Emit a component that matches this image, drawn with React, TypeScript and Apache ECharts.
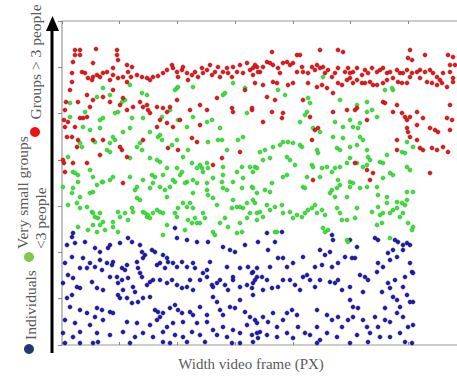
import React, { useEffect, useRef } from "react";
import * as echarts from "echarts";

// Axis extent (video frame px along x, arbitrary vertical units along y)
const X_MAX = 404;
const Y_MAX = 324;
const X_TICKS = 7;
const Y_TICKS = 7;

const X_LABEL = "Width video frame (PX)";
const LEGEND_RED = "Groups > 3 people";
const LEGEND_GREEN_1 = "Very small groups";
const LEGEND_GREEN_2 = "<3 people";
const LEGEND_BLUE = "Individuals";

// Groups > 3 people
const RED: number[][] = [
  [13,295],[18,295],[13,290],[18,290],[34,296],[55,295],[55,290],[11,283],[10,272],[10,263],[8,255],[4,243],[3,235],[2,225],[3,218],[1,185],[11,182],[31,282],[56,285],[51,277],[65,280],[70,278],[66,273],[69,268],
  [20,273],[23,272],[26,267],[30,265],[31,268],[35,270],[38,268],[41,272],[45,273],[48,265],[51,270],[56,267],[61,268],[65,263],[75,270],[80,268],[85,267],[88,265],[91,268],[96,269],[101,272],[105,275],[110,280],[111,277],[115,273],[116,268],[120,275],[121,278],[125,272],[126,265],[130,270],[133,273],[136,268],[140,277],[141,272],[145,275],[148,280],[150,270],[153,273],[156,278],[158,268],[161,273],[165,277],[166,272],[170,268],[171,278],[175,273],[178,280],[181,272],[185,282],[188,275],[191,270],[195,278],[198,273],
  [16,243],[25,250],[28,238],[31,245],[41,248],[48,243],[51,255],[58,240],[61,247],[65,235],[71,238],[78,243],[81,238],[85,240],[86,235],[88,232],[95,238],[101,237],[105,233],[108,238],[115,245],[128,235],[138,240],[145,235],[155,247],[170,237],[171,233],[190,235],[183,255],
  [6,223],[18,227],[21,227],[25,228],[13,218],[5,208],[10,208],[15,198],[16,205],[31,205],[38,190],[41,205],[58,198],[60,195],[61,162],[65,188],[81,205],[95,218],[98,225],[105,222],[111,218],[118,225],[130,207],[135,203],[138,220],[106,197],[116,195],[151,180],[160,187],[178,193],[2,182],[25,182],[3,173],
  [210,293],[235,290],[238,290],[258,295],[276,295],[281,293],[348,295],[346,287],[350,285],[363,290],[386,290],[391,288],[388,280],[393,280],
  [193,280],[191,277],[196,273],[201,278],[205,283],[208,282],[211,280],[216,277],[218,272],[221,282],[225,283],[228,280],[231,282],[235,273],[240,278],[241,273],[246,272],[250,278],[253,275],[255,280],[258,277],[261,278],[263,272],[266,275],[270,268],[273,272],[276,277],[283,273],[286,277],[288,272],[291,273],[295,277],[300,270],[303,275],[306,272],[310,277],[315,273],[318,275],[321,277],[325,272],[328,273],[335,275],[338,272],[341,272],[345,275],[350,272],[355,273],[358,275],[363,273],[368,275],[371,272],[375,268],[378,265],[381,272],[388,273],[391,267],
  [193,262],[201,260],[211,263],[215,262],[226,260],[231,262],[246,262],[255,258],[260,260],[265,257],[276,262],[280,260],[285,265],[288,267],[291,262],[295,265],[300,262],[303,262],[308,263],[311,260],[315,260],[321,262],[325,265],[331,267],[336,263],[340,262],[345,262],[348,268],[358,267],[365,263],[370,262],[375,260],[380,262],[385,258],[391,263],
  [205,248],[213,245],[241,245],[271,252],[248,228],[190,237],[210,233],[221,232],[220,227],[201,223],[271,233],[285,235],[293,235],[295,237],[305,225],[321,243],[323,242],[335,240],[331,233],[340,232],[343,228],[348,228],[345,225],[355,233],[355,220],[361,227],[368,217],[373,215],[376,213],[385,227],[388,240],[390,225],[388,215],[346,213],[348,208],[355,205],[358,197],[361,195],[370,197],[375,195],[381,198],[386,193],[335,195],[335,205],[345,217],[250,205],[253,215],[256,217],[293,182],[305,175],[311,172],[308,165],[368,172],[251,165]
];

// Very small groups (<3 people)
const GREEN: number[][] = [
  [41,257],[48,250],[60,243],[63,245],[68,260],[80,252],[85,250],[113,255],[115,257],[116,258],[131,258],[161,250],[163,252],[171,262],[183,257],[8,242],[35,248],[23,233],[38,225],[41,227],[53,232],[56,233],[70,227],[81,227],[100,228],[108,235],[116,225],[125,218],[131,228],[145,223],[150,225],[158,217],[185,232],[8,228],[21,218],[28,215],[33,203],[38,217],[51,208],[53,205],[61,213],[68,217],[78,202],[80,195],[88,213],[96,208],[98,210],[100,205],[110,200],[115,205],[121,188],[126,195],[138,180],[140,177],[141,173],[135,177],[146,203],[156,205],[160,205],[165,195],[176,205],[181,208],[180,178],[18,202],[20,198],[45,195],[48,193],[48,202],[68,187],[75,198],[88,187],[95,185],[98,183],[105,177],[115,177],[120,173],[130,182],[145,182],[146,177],[161,178],[175,173],[188,178],[191,173],[6,188],[11,173],[13,172],[16,170],[28,175],[31,168],[40,163],[48,165],[51,168],[68,168],[81,165],[90,170],[93,168],[101,170],[111,165],[118,170],[125,163],[131,165],[151,167],[161,170],[181,167],
  [216,255],[223,250],[246,247],[248,242],[261,268],[245,233],[243,230],[238,223],[331,255],[330,257],[323,255],[305,243],[295,240],[310,235],[315,228],[305,233],[288,225],[291,218],[296,217],[273,223],[281,218],[251,217],[258,213],[271,208],[281,207],[288,198],[298,208],[301,205],[295,200],[305,195],[306,188],[308,185],[221,203],[226,203],[231,202],[238,200],[240,198],[218,200],[211,198],[203,195],[198,193],[201,185],[193,178],[195,177],[208,187],[225,188],[228,185],[233,180],[250,180],[251,178],[260,177],[265,178],[270,173],[273,177],[278,178],[285,182],[288,187],[295,182],[301,178],[305,180],[318,183],[321,182],[325,190],[340,193],[343,192],[351,198],[345,203],[345,178],[348,175],[255,195],[256,192],[275,197],[278,195],[245,168],[258,168],[276,165],[288,163],[321,167],[328,172],[331,170],[221,168],[225,170],[278,245],[298,222],
  [1,158],[11,157],[16,163],[10,152],[18,148],[28,152],[31,153],[35,160],[41,163],[6,140],[15,142],[18,137],[25,138],[30,133],[31,132],[33,128],[36,127],[38,132],[38,120],[41,123],[31,120],[26,115],[16,118],[35,113],[43,115],[51,118],[56,113],[51,123],[58,128],[56,133],[63,132],[66,125],[71,133],[70,137],[75,147],[78,145],[81,133],[83,132],[85,128],[86,130],[88,127],[91,132],[95,135],[98,133],[101,132],[73,155],[75,158],[88,157],[91,162],[98,158],[103,155],[105,148],[108,158],[113,163],[121,142],[125,138],[128,142],[131,137],[133,127],[135,122],[138,122],[141,132],[143,127],[145,155],[146,150],[151,147],[155,140],[151,113],[153,110],[158,122],[163,127],[166,118],[170,137],[171,145],[175,138],[178,138],[181,137],[185,142],[188,132],[191,145],[195,152],[190,158],[180,157],[165,155],[161,157],[145,162],[131,152],[135,162],[101,110],[105,120],[123,115],[126,125],[130,122],[115,128],[113,132],[116,137],[178,122],[180,113],[175,112],[185,127],[195,125],[123,162],[160,163],[171,163],
  [191,157],[203,155],[208,153],[193,142],[195,132],[198,133],[201,128],[205,140],[208,135],[213,138],[220,140],[221,132],[228,133],[231,127],[235,130],[240,128],[243,132],[246,135],[250,137],[253,140],[255,132],[260,135],[263,130],[268,152],[270,155],[275,157],[278,160],[273,148],[285,148],[288,158],[291,162],[298,157],[305,158],[275,137],[278,132],[280,125],[285,125],[293,127],[295,137],[310,133],[316,138],[318,130],[321,132],[325,142],[331,135],[335,137],[338,128],[341,132],[343,140],[345,145],[345,153],[351,153],[316,150],[325,148],[315,158],[335,143],[340,142],[315,120],[320,122],[328,132],[346,122],[351,118],[350,115],[261,117],[263,113],[266,115],[213,113],[215,113],[210,162],[241,158],[243,157],[285,105],[286,103],[328,107]
];

// Individuals
const BLUE: number[][] = [
  [11,112],[10,108],[5,100],[13,102],[23,103],[33,97],[38,93],[46,97],[48,100],[58,102],[66,107],[70,103],[78,100],[80,93],[83,90],[90,95],[93,93],[101,90],[105,87],[106,83],[113,117],[115,107],[125,105],[135,103],[146,103],[161,98],[168,95],[173,93],[183,100],[10,88],[21,87],[28,82],[18,77],[25,77],[3,82],[38,85],[33,78],[40,75],[45,82],[50,80],[51,83],[60,77],[63,75],[65,80],[75,83],[76,77],[78,72],[81,87],[95,80],[98,82],[103,77],[111,82],[115,78],[120,83],[125,78],[131,82],[133,77],[145,75],[141,72],[148,83],[165,78],[171,68],[178,77],[186,78],[191,73],[195,68],[6,70],[11,67],[1,62],[15,58],[18,57],[10,50],[5,47],[30,63],[35,57],[41,55],[48,68],[55,68],[56,62],[60,65],[61,55],[66,67],[71,58],[73,53],[80,68],[85,60],[88,63],[91,65],[98,65],[105,62],[110,65],[115,60],[120,57],[125,58],[128,65],[131,55],[138,65],[145,68],[150,60],[151,58],[155,62],[158,65],[163,60],[166,55],[171,65],[178,58],[185,60],[191,62],[8,38],[18,35],[25,32],[33,28],[35,37],[40,35],[48,33],[51,32],[56,50],[58,47],[65,47],[70,42],[76,43],[81,47],[88,48],[93,35],[96,33],[101,32],[108,37],[113,40],[116,35],[120,32],[121,23],[128,33],[131,30],[138,38],[145,30],[151,48],[155,43],[158,35],[161,30],[168,38],[173,37],[178,45],[183,33],[188,28],[193,25],[3,25],[13,22],[28,20],[41,25],[65,23],[75,22],[88,20],[95,25],[98,28],[105,18],[111,22],[135,22],[145,23],[151,15],[161,18],[171,15],[185,20],[195,12],[1,12],[11,8],[18,13],[35,12],[48,10],[61,13],[73,8],[81,12],[91,8],[101,13],[113,10],[121,8],[130,13],[138,10],[155,10],[165,8],[178,12],[190,10],[196,7],
  [205,112],[196,103],[213,103],[220,113],[206,95],[270,110],[271,105],[288,105],[295,98],[313,107],[316,105],[333,105],[336,103],[341,100],[345,102],[348,100],[258,95],[268,93],[263,90],[283,88],[290,87],[293,87],[276,82],[270,78],[260,80],[253,78],[241,88],[231,82],[221,87],[216,87],[225,78],[208,78],[195,77],[190,72],[193,65],[200,68],[205,65],[210,57],[216,58],[221,65],[228,65],[233,60],[238,55],[241,68],[245,70],[248,65],[253,58],[258,65],[268,63],[273,62],[276,65],[280,55],[288,58],[298,70],[303,68],[306,65],[301,53],[315,73],[316,82],[321,78],[326,92],[328,85],[331,95],[335,88],[341,95],[348,82],[350,73],[351,72],[343,68],[333,65],[326,62],[328,57],[320,53],[341,58],[345,50],[190,57],[191,50],[201,55],[230,35],[235,30],[225,32],[211,32],[201,28],[195,22],[206,23],[215,18],[221,25],[236,18],[243,12],[248,10],[255,18],[265,30],[270,25],[276,28],[280,18],[286,25],[291,28],[296,37],[301,25],[305,18],[313,28],[316,18],[323,37],[323,25],[328,23],[335,32],[338,38],[341,28],[348,43],[351,43],[346,18],[351,20],[331,48],[335,45],[288,45],[291,38],[255,35],[198,13],[205,10],[215,8],[225,12],[231,7],[265,12],[275,8],[295,10],[308,12],[318,8],[328,8],[338,12],
  [3,2],[18,2],[31,2],[36,3],[68,2],[101,3],[108,2],[125,3],[143,3],[170,2],[178,2],[191,3],[255,2],[258,5],[288,2],[306,3],[343,3],[350,2]
];

const SERIF = "'Liberation Serif', 'Times New Roman', serif";
const TEXT_GREY = "#5a5a5a";

export default function App() {
  const ref = useRef<HTMLDivElement>(null);

  useEffect(() => {
    if (!ref.current) return;
    const chart = echarts.init(ref.current, undefined, { renderer: "svg" });

    const tickAxisX = (position: "top" | "bottom") => ({
      type: "value",
      position,
      min: 0,
      max: X_MAX,
      interval: X_MAX / X_TICKS,
      axisLine: { show: false },
      axisTick: { show: true, inside: true, length: 3, lineStyle: { color: "#8a8a8a", width: 1 } },
      axisLabel: { show: false },
      splitLine: { show: false },
    });

    const scatter = (name: string, data: number[][], color: string, border: string) => ({
      name,
      type: "scatter",
      data,
      symbol: "circle",
      symbolSize: 4,
      itemStyle: { color, borderColor: border, borderWidth: 0.6, opacity: 1 },
      emphasis: { disabled: true },
    });

    chart.setOption({
      animation: false,
      backgroundColor: "#ffffff",
      grid: {
        left: 62,
        top: 21,
        width: 404,
        height: 324,
        outerBoundsMode: "none",
        containLabel: false,
        show: true,
        borderColor: "#9a9a9a",
        borderWidth: 1.2,
        backgroundColor: "transparent",
      },
      xAxis: [tickAxisX("bottom"), tickAxisX("top")],
      yAxis: {
        type: "value",
        min: 0,
        max: Y_MAX,
        interval: Y_MAX / Y_TICKS,
        axisLine: { show: false },
        axisTick: { show: true, inside: false, length: 4, lineStyle: { color: "#8a8a8a", width: 1 } },
        axisLabel: { show: false },
        splitLine: { show: false },
      },
      series: [
        scatter(LEGEND_BLUE, BLUE, "#1c1cb0", "#10107a"),
        scatter(LEGEND_GREEN_1, GREEN, "#3ee03e", "#28b828"),
        scatter(LEGEND_RED, RED, "#e41a1a", "#a80e0e"),
      ],
      graphic: [
        // vertical arrow
        { type: "line", shape: { x1: 52, y1: 353, x2: 52, y2: 28 }, style: { stroke: "#000", lineWidth: 3 } },
        { type: "polygon", shape: { points: [[52.5, 16], [46, 31], [59, 31]] }, style: { fill: "#000" } },
        // legend-like rotated labels
        {
          type: "text", x: 35, y: 62, rotation: Math.PI / 2,
          style: { text: LEGEND_RED, font: `15.5px ${SERIF}`, fill: TEXT_GREY, align: "center", verticalAlign: "middle" },
        },
        { type: "circle", shape: { cx: 35, cy: 132, r: 5 }, style: { fill: "#ee1111" } },
        {
          type: "text", x: 22, y: 249, rotation: Math.PI / 2,
          style: { text: LEGEND_GREEN_1, font: `15.5px ${SERIF}`, fill: TEXT_GREY, align: "left", verticalAlign: "middle" },
        },
        {
          type: "text", x: 40, y: 249, rotation: Math.PI / 2,
          style: { text: LEGEND_GREEN_2, font: `15.5px ${SERIF}`, fill: TEXT_GREY, align: "left", verticalAlign: "middle" },
        },
        { type: "circle", shape: { cx: 29, cy: 257, r: 5 }, style: { fill: "#80c850" } },
        {
          type: "text", x: 30, y: 305, rotation: Math.PI / 2,
          style: { text: LEGEND_BLUE, font: `15.5px ${SERIF}`, fill: TEXT_GREY, align: "center", verticalAlign: "middle" },
        },
        { type: "circle", shape: { cx: 29, cy: 349, r: 5 }, style: { fill: "#203a70" } },
        // x axis title
        {
          type: "text", x: 251, y: 364,
          style: { text: X_LABEL, font: `15px ${SERIF}`, fill: TEXT_GREY, align: "center", verticalAlign: "middle" },
        },
      ],
    });

    return () => chart.dispose();
  }, []);

  return (
    <div
      ref={ref}
      style={{ position: "absolute", left: 0, top: 0, width: 457, height: 376, overflow: "hidden" }}
    />
  );
}
